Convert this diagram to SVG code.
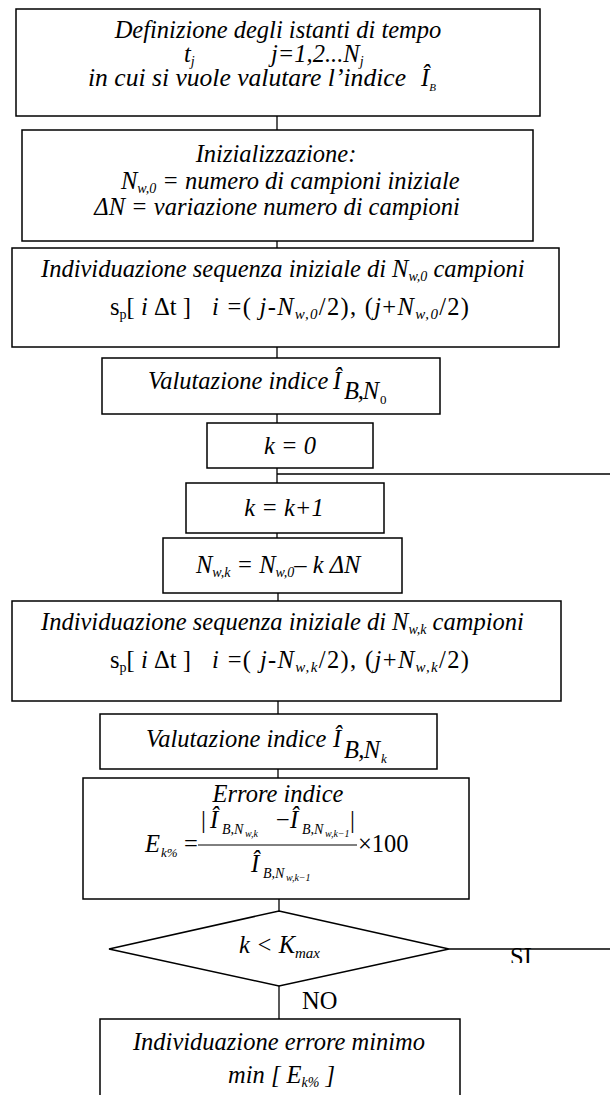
<svg xmlns="http://www.w3.org/2000/svg" width="610" height="1095" viewBox="0 0 610 1095" font-family="'Liberation Serif', 'Times New Roman', serif">
<style>
.box{fill:#fff;stroke:#000;stroke-width:1.5}
text{font-family:'Liberation Serif', 'Times New Roman', serif;font-style:italic;font-size:24.5px;fill:#000}
.up{font-style:normal}
.s14{font-size:14px}
.s15{font-size:15px}
.s13{font-size:13px}
.s10{font-size:10px}
</style>
<defs>
<clipPath id="siclip"><rect x="500" y="940" width="40" height="23"/></clipPath>
</defs>
<rect width="610" height="1095" fill="#fff"/>
<g id="connectors" stroke="#000" stroke-width="1.3" fill="none">
<line x1="277" y1="116" x2="277" y2="130"/>
<line x1="277" y1="241" x2="277" y2="248"/>
<line x1="277" y1="347" x2="277" y2="358"/>
<line x1="277" y1="414" x2="277" y2="423"/>
<line x1="277" y1="468" x2="277" y2="483"/>
<line x1="277" y1="474" x2="610" y2="474"/>
<line x1="277" y1="533" x2="277" y2="538"/>
<line x1="278" y1="593" x2="278" y2="601"/>
<line x1="278" y1="701" x2="278" y2="714"/>
<line x1="278" y1="769" x2="278" y2="778"/>
<line x1="279" y1="899" x2="279" y2="911"/>
<line x1="449" y1="949" x2="610" y2="949"/>
<line x1="279" y1="986" x2="279" y2="1019"/>
</g>
<g id="n1">
<rect class="box" x="16" y="9" width="524" height="107"/>
<text x="278" y="38" text-anchor="middle">Definizione degli istanti di tempo</text>
<text x="184" y="62">t<tspan class="s14" dy="4">j</tspan></text>
<text x="271" y="62">j=1,2...N<tspan class="s14" dy="4">j</tspan></text>
<text x="88" y="86" textLength="318" lengthAdjust="spacingAndGlyphs">in cui si vuole valutare l’indice</text>
<text x="421" y="86">Î<tspan font-size="11" dy="5">B</tspan></text>
</g>
<g id="n2">
<rect class="box" x="22" y="130" width="511" height="111"/>
<text x="276" y="162" text-anchor="middle">Inizializzazione:</text>
<text x="121" y="189">N<tspan class="s14" dy="4">w,0</tspan><tspan dy="-4"> = numero di campioni iniziale</tspan></text>
<text x="277" y="215" text-anchor="middle">ΔN = variazione numero di campioni</text>
</g>
<g id="n3">
<rect class="box" x="12" y="248" width="547" height="99"/>
<text x="41" y="277">Individuazione sequenza iniziale di N<tspan class="s14" dy="4">w,0</tspan><tspan dy="-4"> campioni</tspan></text>
<text x="110" y="315" class="up">s<tspan class="s14" dy="4">p</tspan><tspan dy="-4">[</tspan></text>
<text x="141" y="315">i</text>
<text x="154" y="315" class="up">Δt ]</text>
<text x="212" y="315" textLength="257" lengthAdjust="spacing">i <tspan class="up">=( </tspan>j-N<tspan class="s15" dy="4">w,0</tspan><tspan class="up" dy="-4">/2), (</tspan>j<tspan class="up">+</tspan>N<tspan class="s15" dy="4">w,0</tspan><tspan class="up" dy="-4">/2)</tspan></text>
</g>
<g id="n4">
<rect class="box" x="102" y="358" width="338" height="56"/>
<text x="148" y="389" font-size="24">Valutazione indice</text>
<text x="333" y="389">Î</text>
<text x="344" y="399" font-size="19" textLength="35" lengthAdjust="spacing">B,N</text>
<text x="380" y="404" class="up s13">0</text>
</g>
<g id="n5">
<rect class="box" x="207" y="423" width="166" height="45"/>
<text x="290" y="454" text-anchor="middle">k = 0</text>
</g>
<g id="n6">
<rect class="box" x="186" y="483" width="198" height="50"/>
<text x="284" y="516" text-anchor="middle">k = k+1</text>
</g>
<g id="n7">
<rect class="box" x="163" y="538" width="239" height="55"/>
<text x="196" y="573">N<tspan class="s14" dy="4">w,k</tspan><tspan dy="-4"> = N</tspan><tspan class="s14" dy="4">w,0</tspan><tspan dy="-4">– k ΔN</tspan></text>
</g>
<g id="n8">
<rect class="box" x="12" y="601" width="549" height="100"/>
<text x="41" y="630">Individuazione sequenza iniziale di N<tspan class="s14" dy="4">w,k</tspan><tspan dy="-4"> campioni</tspan></text>
<text x="110" y="668" class="up">s<tspan class="s14" dy="4">p</tspan><tspan dy="-4">[</tspan></text>
<text x="141" y="668">i</text>
<text x="154" y="668" class="up">Δt ]</text>
<text x="212" y="668" textLength="257" lengthAdjust="spacing">i <tspan class="up">=( </tspan>j-N<tspan class="s15" dy="4">w,k</tspan><tspan class="up" dy="-4">/2), (</tspan>j<tspan class="up">+</tspan>N<tspan class="s15" dy="4">w,k</tspan><tspan class="up" dy="-4">/2)</tspan></text>
</g>
<g id="n9">
<rect class="box" x="100" y="714" width="337" height="55"/>
<text x="146" y="747" font-size="24">Valutazione indice</text>
<text x="333" y="747">Î</text>
<text x="344" y="758" font-size="19" textLength="36" lengthAdjust="spacing">B,N</text>
<text x="381" y="763" class="s13">k</text>
</g>
<g id="n10">
<rect class="box" x="83" y="778" width="386" height="121"/>
<text x="278" y="802" text-anchor="middle">Errore indice</text>
<text x="145" y="852" font-size="23">E</text>
<text x="161" y="857" class="s13">k%</text>
<text x="184" y="852" class="up" font-size="23">=</text>
<line x1="198" y1="845" x2="357" y2="845" stroke="#000" stroke-width="1"/>
<text x="201" y="828" class="up" font-size="22">|</text>
<text x="210" y="828" font-size="22">Î</text>
<text x="222" y="834" class="s14">B,N</text>
<text x="245" y="837" class="s10">w,k</text>
<text x="276" y="828" class="up" font-size="22">−</text>
<text x="290" y="828" font-size="22">Î</text>
<text x="302" y="834" class="s14">B,N</text>
<text x="325" y="837" class="s10">w,k−1</text>
<text x="350" y="828" class="up" font-size="22">|</text>
<text x="251" y="872" font-size="22">Î</text>
<text x="263" y="878" class="s14">B,N</text>
<text x="286" y="881" class="s10">w,k−1</text>
<text x="358" y="852" class="up" font-size="23">×100</text>
</g>
<g id="n11">
<polygon points="279,911 449,949 279,986 109,949" fill="#fff" stroke="#000" stroke-width="1.5"/>
<text x="239" y="953">k &lt; K<tspan class="s15" dy="5">max</tspan></text>
</g>
<g id="labels">
<text x="510" y="965" class="up" font-size="22" clip-path="url(#siclip)">SI</text>
<text x="302" y="1009" class="up" font-size="24">NO</text>
</g>
<g id="n12">
<rect class="box" x="100" y="1019" width="360" height="100"/>
<text x="279" y="1050" text-anchor="middle">Individuazione errore minimo</text>
<text x="228" y="1083">min [ E<tspan class="s14" dy="4">k%</tspan><tspan dy="-4"> ]</tspan></text>
</g>
</svg>
